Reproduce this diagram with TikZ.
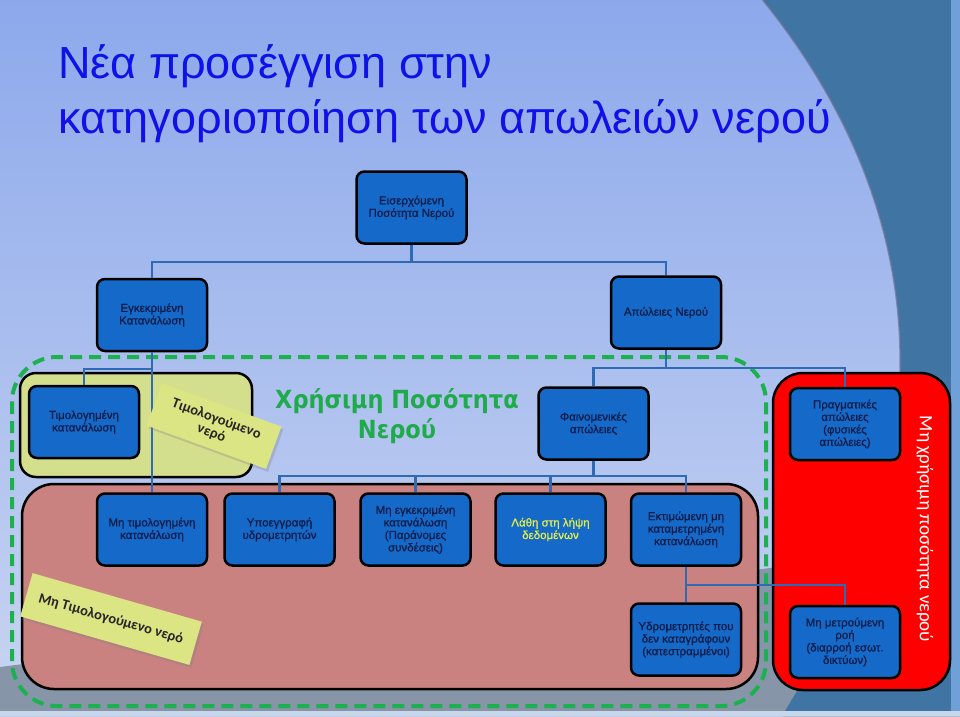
\documentclass[tikz,border=0pt]{standalone}
\usepackage{fontspec}
\setmainfont{Liberation Sans}
\newfontfamily\titlefont{Liberation Sans}
\newfontfamily\boxfont[FakeBold=0.8]{Liberation Sans}
\newfontfamily\calib{Carlito}
\newfontfamily\greenfont{DejaVu Sans Condensed}
\usetikzlibrary{shadows,calc}
\definecolor{bgtop}{RGB}{141,169,236}
\definecolor{bgbot}{RGB}{201,213,241}
\definecolor{darkband}{RGB}{63,116,163}
\definecolor{bandedge}{RGB}{100,112,150}
\definecolor{greyband}{RGB}{135,149,168}
\definecolor{rightstrip}{RGB}{111,160,216}
\definecolor{botstrip}{RGB}{200,214,234}
\definecolor{boxblue}{RGB}{21,105,200}
\definecolor{boxtext}{RGB}{12,28,72}
\definecolor{connblue}{RGB}{47,106,181}
\definecolor{regyellow}{RGB}{212,223,141}
\definecolor{tagyellow}{RGB}{220,229,131}
\definecolor{pinkfill}{RGB}{201,130,128}
\definecolor{dashgreen}{RGB}{29,176,79}
\definecolor{titlegreen}{RGB}{31,170,76}
\definecolor{titleblue}{RGB}{16,16,232}
\definecolor{lathyellow}{RGB}{228,240,74}
\begin{document}
\begin{tikzpicture}[x=1pt,y=-1pt,
  bx/.style={draw=black, line width=2.5pt, fill=boxblue, rounded corners=8pt,
    minimum width=110pt, minimum height=72pt, inner sep=1pt, align=center,
    text=boxtext, font=\boxfont\fontsize{11.5}{12.5}\selectfont},
  conn/.style={draw=connblue, line width=2.4pt},
  region/.style={draw=black, line width=2.5pt},
  tag/.style={fill=tagyellow, inner sep=0pt, align=center,
    font=\calib\bfseries\fontsize{14.5}{15}\selectfont, text=black!85,
    drop shadow={opacity=0.3, shadow xshift=2pt, shadow yshift=-3pt}},
  greendash/.style={draw=dashgreen, line width=4pt, dash pattern=on 12pt off 7pt}
]
\useasboundingbox (0,0) rectangle (960,716);
% background
\fill[top color=bgtop, bottom color=bgbot] (0,0) rectangle (960,716);
\fill[greyband] (0,667) -- (770,568) -- (960,540) -- (960,716) -- (0,716) -- cycle;
\fill[darkband] (763,0) .. controls (860,120) and (905,250) .. (900,380)
  .. controls (895,520) and (840,620) .. (782,716) -- (960,716) -- (960,0) -- cycle;
\draw[bandedge, line width=2pt, opacity=0.7] (763,0) .. controls (860,120) and (905,250) .. (900,380);
\fill[rightstrip] (951,0) rectangle (960,716);
\fill[botstrip] (0,711) rectangle (960,716);
% title
\node[anchor=base west, inner sep=0pt, text=titleblue, font=\titlefont\fontsize{45}{50}\selectfont] (t1) at (58,78) {Νέα προσέγγιση στην};
\node[anchor=base west, inner sep=0pt, text=titleblue, font=\titlefont\fontsize{45}{50}\selectfont] (t2) at (58,133) {κατηγοριοποίηση των απωλειών νερού};
% regions
\draw[greendash, rounded corners=45pt] (12,357) rectangle (766,706);
\draw[region, fill=regyellow, rounded corners=16pt] (20,373) rectangle (252,477);
\draw[region, fill=pinkfill, rounded corners=32pt] (22,484) rectangle (758,689);
\draw[region, fill=red, rounded corners=30pt] (773,373) rectangle (950,690);
% nodes
\node[bx] (top) at (411.5,207.5) {Εισερχόμενη\\Ποσότητα Νερού};
\node[bx] (egk) at (152,315) {Εγκεκριμένη\\Κατανάλωση};
\node[bx] (apol) at (666,312.5) {Απώλειες Νερού};
\node[bx] (timol) at (84,422) {Τιμολογημένη\\κατανάλωση};
\node[bx] (fain) at (593.5,423.5) {Φαινομενικές\\απώλειες};
\node[bx] (pragm) at (845,424) {Πραγματικές\\απώλειες\\(φυσικές\\απώλειες)};
\node[bx] (mtim) at (152,529.5) {Μη τιμολογημένη\\κατανάλωση};
\node[bx] (ypo) at (279.5,529.5) {Υποεγγραφή\\υδρομετρητών};
\node[bx] (mek) at (415.5,529.5) {Μη εγκεκριμένη\\κατανάλωση\\(Παράνομες\\συνδέσεις)};
\node[bx, text=lathyellow] (lath) at (550.5,529.5) {Λάθη στη λήψη\\δεδομένων};
\node[bx] (ekt) at (686,529.5) {Εκτιμώμενη μη\\καταμετρημένη\\κατανάλωση};
\node[bx] (ydro) at (686,639.5) {Υδρομετρητές που\\δεν καταγράφουν\\(κατεστραμμένοι)};
\node[bx] (mmr) at (845,642) {Μη μετρούμενη\\ροή\\(διαρροή εσωτ.\\δικτύων)};
% connectors
\draw[conn] (top.south) -- (top.south |- 0,262);
\draw[conn] (egk.north) |- (top.south |- 0,262) -| (apol.north);
\draw[conn] (egk.south) -- (mtim.north);
\draw[conn] (timol.north) |- (egk.south |- 0,369);
\draw[conn] (apol.south) -- (apol.south |- 0,368);
\draw[conn] (fain.north) |- (apol.south |- 0,368) -| (pragm.north);
\draw[conn] (fain.south) -- (fain.south |- 0,476);
\draw[conn] (ypo.north) |- (fain.south |- 0,476) -| (ekt.north);
\draw[conn] (mek.north) -- (mek.north |- 0,476);
\draw[conn] (lath.north) -- (lath.north |- 0,476);
\draw[conn] (ekt.south) -- (ydro.north);
\draw[conn] (ekt.south |- 0,585) -| (mmr.north);
% labels
\node[text=titlegreen, align=center, font=\greenfont\bfseries\fontsize{25}{30}\selectfont] (useful) at (397,416) {Χρήσιμη Ποσότητα\\Νερού};
\node[tag, rotate=-20, minimum width=127pt, minimum height=45pt] (billed) at (214,426) {Τιμολογούμενο\\νερό};
\node[tag, rotate=-16, minimum width=176pt, minimum height=45pt] (nonbilled) at (111,619) {Μη Τιμολογούμενο νερό};
\node[rotate=-90, text=white, font=\calib\fontsize{19}{20}\selectfont] (nonuse) at (925,529) {Μη χρήσιμη ποσότητα νερού};
\end{tikzpicture}
\end{document}
